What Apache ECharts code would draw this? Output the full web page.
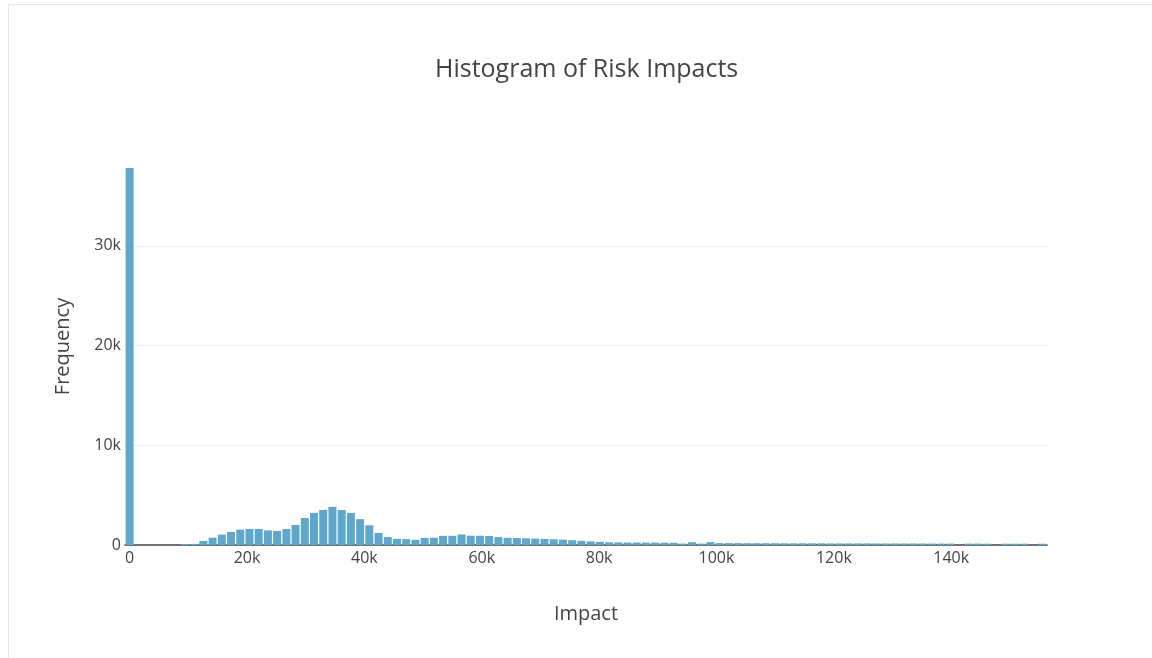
<!DOCTYPE html>
<html><head><meta charset="utf-8">
<script src="https://cdn.jsdelivr.net/npm/echarts@6/dist/echarts.min.js"></script>
<style>
html,body{margin:0;padding:0;background:#fff;overflow:hidden;}
#frame{position:absolute;left:8px;top:4px;width:1160px;height:700px;border:1px solid #e6e6e6;box-sizing:border-box;}
#chart{position:absolute;left:0;top:0;width:1152px;height:658px;}
</style>
</head><body><div id="frame"></div><div id="chart"></div>
<script>
// Histogram bins: bin i is centred at i * binWidth
const binWidth = 1571;
const frequencies = [
  37800, 0, 0, 0, 0, 0, 100, 100, 400, 730,
  1040, 1310, 1540, 1610, 1610, 1470, 1410, 1610, 2010, 2710,
  3220, 3520, 3830, 3510, 3220, 2590, 1980, 1210, 800, 620,
  590, 520, 710, 730, 920, 920, 1060, 930, 930, 900,
  790, 720, 700, 670, 640, 610, 580, 540, 480, 420,
  360, 310, 270, 260, 250, 250, 240, 240, 230, 220,
  140, 280, 140, 290, 190, 190, 190, 180, 180, 180,
  180, 170, 170, 170, 170, 170, 160, 160, 160, 160,
  160, 150, 150, 150, 150, 150, 150, 140, 140, 140,
  0, 140, 140, 130, 0, 130, 130, 130, 0, 130
];
const xTickValues = [0, 20000, 40000, 60000, 80000, 100000, 120000, 140000];
const yTickValues = [0, 10000, 20000, 30000];
const titleText = 'Histogram of Risk Impacts';
const xTitle = 'Impact';
const yTitle = 'Frequency';

const seriesData = frequencies.map((f, i) => [i * binWidth, f]);
const fmtK = v => v === 0 ? '0' : (v / 1000) + 'k';
const FONT = '"Open Sans", "Noto Sans", sans-serif';

const chart = echarts.init(document.getElementById('chart'), null, {renderer: 'canvas'});
chart.setOption({
  animation: false,
  backgroundColor: 'transparent',
  textStyle: {fontFamily: FONT, color: '#444'},
  title: {
    text: titleText,
    left: 430, top: 52,
    textStyle: {fontFamily: FONT, fontSize: 25, fontWeight: 'normal', color: '#444'}
  },
  grid: {left: 125, right: 105, top: 148, bottom: 113, containLabel: false},
  xAxis: {
    type: 'value',
    min: -binWidth / 2,
    max: binWidth * 99.5,
    name: xTitle,
    nameLocation: 'middle',
    nameGap: 59,
    nameTextStyle: {fontFamily: FONT, fontSize: 20, color: '#444'},
    axisLine: {show: true, lineStyle: {color: '#444', width: 1.6}},
    axisTick: {show: false, customValues: xTickValues},
    axisLabel: {
      customValues: xTickValues,
      formatter: fmtK,
      fontFamily: FONT, fontSize: 16, color: '#444', margin: 5
    },
    splitLine: {show: false}
  },
  yAxis: {
    type: 'value',
    min: 0,
    max: 39800,
    name: yTitle,
    nameLocation: 'middle',
    nameGap: 52,
    nameRotate: 90,
    nameTextStyle: {fontFamily: FONT, fontSize: 20, color: '#444'},
    axisLine: {show: false},
    axisTick: {show: false},
    axisLabel: {
      customValues: yTickValues,
      formatter: fmtK,
      fontFamily: FONT, fontSize: 16, color: '#444', margin: 4
    },
    splitLine: {show: true, showMinLine: false, showMaxLine: false, lineStyle: {color: '#eeeeee', width: 1}}
  },
  series: [{
    type: 'bar',
    data: seriesData,
    barWidth: 8,
    itemStyle: {color: '#5fa8cb'},
    emphasis: {disabled: true}
  }]
});
</script>
</body></html>
